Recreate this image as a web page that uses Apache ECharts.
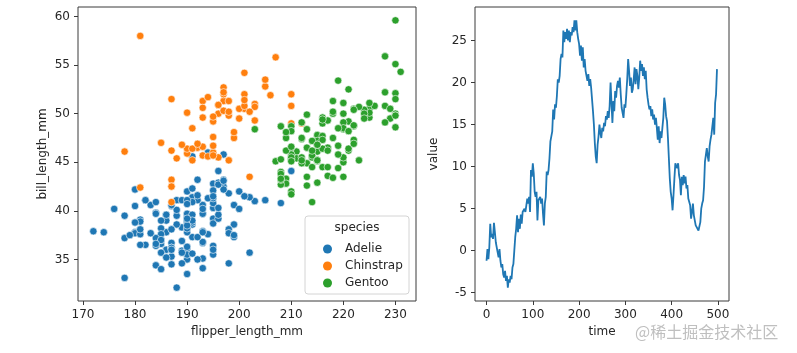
<!DOCTYPE html>
<html>
<head>
<meta charset="utf-8">
<title>penguins / random walk</title>
<script src="https://cdn.jsdelivr.net/npm/echarts@6.0.0/dist/echarts.min.js"></script>
<style>
  html, body { margin: 0; padding: 0; background: #fff; }
  #chart { width: 797px; height: 353px; }
</style>
</head>
<body>
<div id="chart"></div>
<script>
  //  左图：企鹅数据 (flipper_length_mm, bill_length_mm)
  var speciesNames = ['Adelie', 'Chinstrap', 'Gentoo'];
  var speciesColors = ['#1f77b4', '#ff7f0e', '#2ca02c'];

  var adelieFlipper = [181, 186, 195, 193, 190, 181, 195, 193, 190, 186, 180, 182, 191, 198, 185, 195, 197, 184, 194, 174,
    180, 189, 185, 180, 187, 183, 187, 172, 180, 178, 178, 188, 184, 195, 196, 190, 180, 181, 184, 182,
    195, 186, 196, 185, 190, 182, 179, 190, 191, 186, 188, 190, 200, 187, 191, 186, 193, 181, 194, 185,
    195, 185, 192, 184, 192, 195, 188, 190, 198, 190, 190, 196, 197, 190, 195, 191, 184, 187, 195, 189,
    196, 187, 193, 191, 194, 190, 189, 189, 190, 202, 205, 185, 186, 187, 208, 190, 196, 178, 192, 192,
    203, 183, 190, 193, 184, 199, 190, 181, 197, 198, 191, 193, 197, 191, 196, 188, 199, 189, 189, 187,
    198, 176, 202, 186, 199, 191, 195, 191, 210, 190, 197, 193, 199, 187, 190, 191, 200, 185, 193, 193,
    187, 188, 190, 192, 185, 190, 184, 195, 193, 187, 201];
  var adelieBill = [39.1, 39.5, 40.3, 36.7, 39.3, 38.9, 39.2, 34.1, 42.0, 37.8, 37.8, 41.1, 38.6, 34.6, 36.6, 38.7, 42.5, 34.4, 46.0, 37.8,
    37.7, 35.9, 38.2, 38.8, 35.3, 40.6, 40.5, 37.9, 40.5, 39.5, 37.2, 39.5, 40.9, 36.4, 39.2, 38.8, 42.2, 37.6, 39.8, 36.5,
    40.8, 36.0, 44.1, 37.0, 39.6, 41.1, 37.5, 36.0, 42.3, 39.6, 40.1, 35.0, 42.0, 34.5, 41.4, 39.0, 40.6, 36.5, 37.6, 35.7,
    41.3, 37.6, 41.1, 36.4, 41.6, 35.5, 41.1, 35.9, 41.8, 33.5, 39.7, 39.6, 45.8, 35.5, 42.8, 40.9, 37.2, 36.2, 42.1, 34.6,
    42.9, 36.7, 35.1, 37.3, 41.3, 36.3, 36.9, 38.3, 38.9, 35.7, 41.1, 34.0, 39.6, 36.2, 40.8, 38.1, 40.3, 33.1, 43.2, 35.0,
    41.0, 37.7, 37.8, 37.9, 39.7, 38.6, 38.2, 38.1, 43.2, 38.1, 45.6, 39.7, 42.2, 39.6, 42.7, 38.6, 37.3, 35.7, 41.1, 36.2,
    37.7, 40.2, 41.4, 35.2, 40.6, 38.8, 41.5, 39.0, 44.1, 38.5, 43.1, 36.8, 37.5, 38.1, 41.1, 35.6, 40.2, 37.0, 39.7, 40.2,
    40.6, 32.1, 40.7, 37.3, 39.0, 39.2, 36.6, 36.0, 37.8, 36.0, 41.5];

  var chinstrapFlipper = [192, 196, 193, 188, 197, 198, 178, 197, 195, 198, 193, 194, 185, 201, 190, 201, 197, 181, 190, 195,
    181, 191, 187, 193, 195, 197, 200, 200, 191, 205, 187, 201, 187, 203, 195, 199, 195, 210, 192, 205,
    210, 187, 196, 196, 196, 201, 190, 212, 187, 198, 199, 201, 193, 203, 187, 197, 191, 203, 202, 194,
    206, 189, 195, 207, 202, 193, 210, 198];
  var chinstrapBill = [46.5, 50.0, 51.3, 45.4, 52.7, 45.2, 46.1, 51.3, 46.0, 51.3, 46.6, 51.7, 47.0, 52.0, 45.9, 50.5, 50.3, 58.0, 46.4, 49.2,
    42.4, 48.5, 43.2, 50.6, 46.7, 52.0, 50.5, 49.5, 46.4, 52.8, 40.9, 54.2, 42.5, 51.0, 49.7, 47.5, 47.6, 52.0, 46.9, 53.5,
    49.0, 46.2, 50.9, 45.5, 50.9, 50.8, 50.1, 49.0, 51.5, 49.8, 48.1, 51.4, 45.7, 50.7, 42.5, 52.2, 45.2, 49.3, 50.2, 45.6,
    51.9, 46.8, 45.7, 55.8, 43.5, 49.6, 50.8, 50.2];

  var gentooFlipper = [211, 230, 210, 218, 215, 210, 211, 219, 209, 215, 214, 216, 214, 213, 210, 217, 210, 221, 209, 222,
    218, 215, 213, 215, 215, 215, 216, 215, 210, 220, 222, 209, 207, 230, 220, 220, 213, 219, 208, 208,
    208, 225, 210, 216, 222, 217, 210, 225, 213, 215, 210, 220, 210, 225, 217, 220, 208, 220, 208, 224,
    208, 221, 214, 231, 219, 230, 214, 229, 220, 223, 216, 221, 221, 217, 216, 230, 209, 220, 215, 223,
    212, 221, 212, 224, 212, 228, 218, 218, 212, 230, 218, 228, 212, 224, 214, 226, 216, 222, 203, 225,
    219, 228, 215, 228, 216, 215, 210, 219, 208, 209, 229, 230, 213, 230, 217, 230, 217, 222, 214, 215,
    222, 212, 213];
  var gentooBill = [46.1, 50.0, 48.7, 50.0, 47.6, 46.5, 45.4, 46.7, 43.3, 46.8, 40.9, 49.0, 45.5, 48.4, 45.8, 49.3, 42.0, 49.2, 46.2, 48.7,
    50.2, 45.1, 46.5, 46.3, 42.9, 46.1, 44.5, 47.8, 48.2, 50.0, 47.3, 42.8, 45.1, 59.6, 49.1, 48.4, 42.6, 44.4, 44.0, 48.7,
    42.7, 49.6, 45.3, 49.6, 50.5, 43.6, 45.5, 50.5, 44.9, 45.2, 46.6, 48.5, 45.1, 50.1, 46.5, 45.0, 43.8, 45.5, 43.2, 50.4,
    45.3, 46.2, 45.7, 54.3, 45.8, 49.8, 46.2, 49.5, 43.5, 50.7, 47.7, 46.4, 48.2, 46.5, 46.4, 48.6, 47.5, 51.1, 45.2, 45.2,
    49.1, 52.5, 47.4, 50.0, 44.9, 50.8, 43.4, 51.3, 47.5, 52.1, 47.5, 52.2, 45.5, 49.5, 44.5, 50.8, 49.4, 46.9, 48.4, 51.1,
    48.5, 55.9, 47.2, 49.1, 47.3, 46.8, 41.7, 53.4, 43.3, 48.1, 50.5, 49.8, 43.5, 51.5, 46.2, 55.1, 44.5, 48.8, 47.2, 46.8,
    50.4, 45.2, 49.9];

  var flipperTicks = [170, 180, 190, 200, 210, 220, 230];
  var billTicks = [35, 40, 45, 50, 55, 60];

  //  右图：随机游走，每 2 个时间步读一个值
  var walkStep = 2;
  var walkValues = [
    -1.2, 0.2, -1.0, 0.4, 3.2, 1.6, 2.0, 1.4, 3.3, 2.2,
    1.0, 1.2, -0.2, -0.8, 0.2, -1.2, -2.0, -1.6, -2.8, -3.2,
    -2.4, -3.6, -3.0, -4.4, -3.4, -3.8, -3.0, -3.4, -2.0, -1.6,
    0.0, 1.6, 2.6, 4.2, 2.2, 3.8, 2.6, 4.3, 3.2, 4.6,
    4.4, 5.0, 4.6, 5.4, 6.2, 5.6, 6.4, 4.6, 9.6, 8.8,
    10.4, 9.2, 7.0, 6.4, 7.0, 3.6, 6.0, 5.8, 6.4, 5.6,
    6.2, 4.4, 3.0, 5.6, 6.4, 9.4, 9.0, 9.6, 11.0, 13.0,
    13.6, 14.2, 16.8, 15.6, 17.4, 17.0, 18.4, 20.4, 20.0, 20.8,
    22.8, 23.4, 23.0, 26.2, 24.8, 26.0, 25.2, 26.4, 25.0, 26.2,
    24.8, 26.0, 25.6, 26.6, 26.0, 27.4, 26.2, 27.4, 26.0, 25.2,
    24.6, 23.2, 24.4, 22.6, 24.2, 21.8, 22.8, 21.4, 21.2, 20.2,
    21.0, 19.6, 20.4, 19.4, 18.0, 16.6, 15.0, 12.8, 11.2, 10.4,
    12.6, 13.6, 15.0, 14.0, 13.4, 14.6, 14.2, 15.2, 14.8, 16.0,
    15.6, 16.6, 15.8, 17.2, 20.0, 17.6, 15.2, 17.8, 16.6, 19.0,
    18.2, 19.6, 20.2, 19.4, 20.6, 18.6, 17.0, 16.4, 15.8, 17.4,
    17.0, 18.6, 20.4, 22.8, 21.4, 19.6, 20.6, 18.8, 19.2, 20.4,
    21.8, 19.8, 21.6, 20.8, 19.2, 20.6, 22.6, 21.4, 22.2, 20.8,
    21.8, 20.4, 21.4, 19.2, 18.2, 17.4, 16.8, 17.2, 16.0, 16.8,
    15.6, 16.2, 15.0, 15.8, 14.6, 13.2, 14.8, 12.8, 14.2, 13.4,
    14.6, 15.8, 18.2, 17.4, 16.0, 15.4, 13.4, 11.0, 8.6, 7.0,
    6.2, 4.8, 6.6, 8.6, 10.4, 10.6, 9.8, 10.4, 9.0, 8.4,
    6.6, 8.8, 7.8, 9.0, 8.0, 8.8, 7.4, 7.8, 6.2, 6.4,
    5.4, 3.8, 4.6, 5.6, 4.2, 4.4, 3.0, 2.8, 3.0, 2.4,
    2.2, 3.4, 5.0, 5.6, 6.0, 7.6, 10.6, 11.4, 12.2, 11.2,
    10.6, 12.4, 13.2, 13.8, 13.6, 15.8, 13.8, 17.6, 18.6, 21.6
  ];
  var timeTicks = [0, 100, 200, 300, 400, 500];
  var valueTicks = [-5, 0, 5, 10, 15, 20, 25];

  var FONT = 'DejaVu Sans';
  var TEXT_COLOR = '#262626';
  var SPINE_COLOR = '#3a3a3a';

  function zip(xs, ys) {
    return xs.map(function (x, i) {
      return [x, ys[i]];
    });
  }

  //  matplotlib 风格的数值轴：四周边框由 grid 画，这里只画刻度和标签
  function mplAxis(gridIndex, min, max, ticks, name, nameGap) {
    return {
      type: 'value',
      gridIndex: gridIndex,
      min: min,
      max: max,
      name: name,
      nameLocation: 'middle',
      nameGap: nameGap,
      nameTextStyle: { fontFamily: FONT, fontSize: 12, color: TEXT_COLOR },
      axisLine: { show: false, onZero: false },
      splitLine: { show: false },
      axisTick: {
        show: true,
        length: 4,
        customValues: ticks,
        lineStyle: { color: SPINE_COLOR, width: 1 }
      },
      axisLabel: {
        customValues: ticks,
        margin: 8,
        fontFamily: FONT,
        fontSize: 12,
        color: TEXT_COLOR
      }
    };
  }

  var scatterSeries = [
    zip(adelieFlipper, adelieBill),
    zip(chinstrapFlipper, chinstrapBill),
    zip(gentooFlipper, gentooBill)
  ].map(function (points, i) {
    return {
      name: speciesNames[i],
      type: 'scatter',
      xAxisIndex: 0,
      yAxisIndex: 0,
      data: points,
      symbolSize: 7.4,
      itemStyle: { color: speciesColors[i], borderColor: '#fff', borderWidth: 0.6, opacity: 1 }
    };
  });

  var walkData = walkValues.map(function (v, i) {
    return [i * walkStep, v];
  });

  var option = {
    animation: false,
    backgroundColor: '#fff',
    grid: [
      { left: 78, top: 7, width: 338, height: 294, show: true, borderColor: SPINE_COLOR, borderWidth: 1, backgroundColor: 'transparent' },
      { left: 475, top: 7, width: 254, height: 294, show: true, borderColor: SPINE_COLOR, borderWidth: 1, backgroundColor: 'transparent' }
    ],
    xAxis: [
      mplAxis(0, 169.05, 233.95, flipperTicks, 'flipper_length_mm', 25),
      mplAxis(1, -24.95, 523.95, timeTicks, 'time', 25)
    ],
    yAxis: [
      mplAxis(0, 30.725, 60.975, billTicks, 'bill_length_mm', 29),
      mplAxis(1, -5.99, 28.99, valueTicks, 'value', 35)
    ],
    legend: {
      data: speciesNames.map(function (name) {
        return { name: name, itemStyle: { borderWidth: 0 } };
      }),
      orient: 'vertical',
      left: 318,
      top: 237,
      itemWidth: 9,
      itemHeight: 9,
      itemGap: 3,
      icon: 'circle',
      selectedMode: false,
      z: 10,
      textStyle: { fontFamily: FONT, fontSize: 12, color: TEXT_COLOR, lineHeight: 14, padding: [0, 0, 0, 8] }
    },
    graphic: [
      {
        type: 'rect',
        z: 8,
        shape: { x: 305, y: 216, width: 104, height: 78, r: 3 },
        style: { fill: 'rgba(255,255,255,0.8)', stroke: '#d4d4d4', lineWidth: 1 }
      },
      {
        type: 'text',
        z: 10,
        x: 357,
        y: 228,
        style: { text: 'species', fontFamily: FONT, fontSize: 12, fill: TEXT_COLOR, align: 'center', verticalAlign: 'middle' }
      },
      {
        type: 'text',
        z: 20,
        x: 635,
        y: 332,
        style: {
          text: '@稀土掘金技术社区',
          fontFamily: 'Noto Sans CJK SC',
          fontSize: 16,
          fill: 'rgba(170,170,170,0.75)',
          align: 'left',
          verticalAlign: 'middle'
        }
      }
    ],
    series: scatterSeries.concat([{
      name: 'walk',
      type: 'line',
      xAxisIndex: 1,
      yAxisIndex: 1,
      data: walkData,
      showSymbol: false,
      symbol: 'none',
      lineStyle: { color: '#1f77b4', width: 1.8 },
      emphasis: { disabled: true }
    }])
  };

  var chart = echarts.init(document.getElementById('chart'), null, { renderer: 'canvas' });
  chart.setOption(option);
</script>
</body>
</html>
